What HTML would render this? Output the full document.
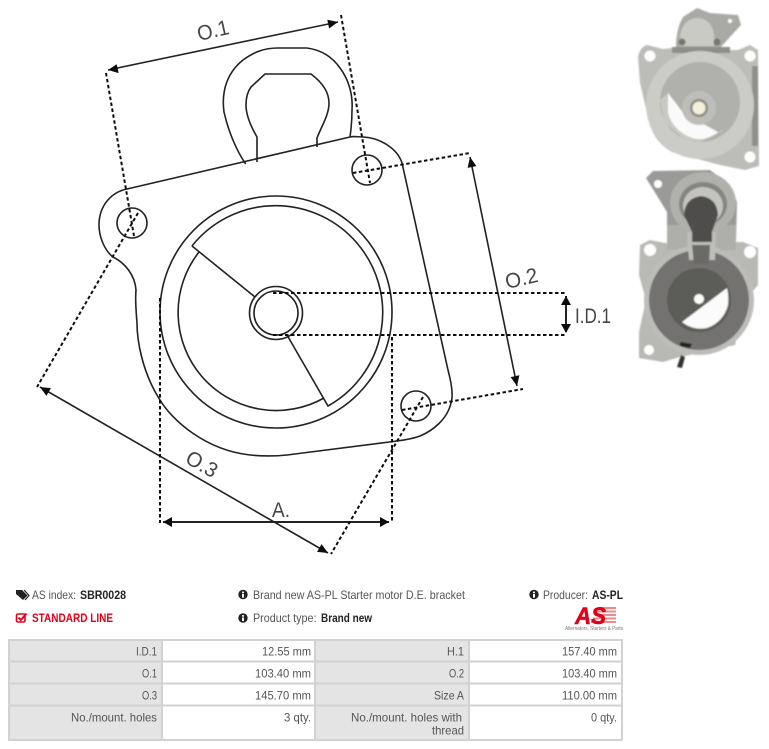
<!DOCTYPE html>
<html><head><meta charset="utf-8"><style>
html,body{margin:0;padding:0;background:#fff}
svg{display:block}
text{font-family:"Liberation Sans",sans-serif}
.t{font-size:12px;fill:#555;text-anchor:end}
.h{font-size:12px;fill:#555}
.b{font-size:12px;fill:#222;font-weight:bold}
.l{font-size:21px;fill:#444}
</style></head><body>
<svg width="769" height="749" viewBox="0 0 769 749" xmlns="http://www.w3.org/2000/svg">
<defs>
<filter id="bl" x="-5%" y="-5%" width="110%" height="110%"><feGaussianBlur stdDeviation="0.8"/></filter>
<filter id="ln" x="-5%" y="-5%" width="110%" height="110%"><feGaussianBlur stdDeviation="0.25"/></filter>
</defs>
<rect width="769" height="749" fill="#fff"/>

<g filter="url(#ln)">
<g fill="none" stroke="#222" stroke-width="1.6">
<path d="M245.7,164 C236,150 228,130 224,112 C221,90 228,72 243,60 C254,52 264,48 278,48 L307,48 C322,50 333,58 340,68 C349,80 353,95 352,110 C352,120 351,130 350,137"/>
<path d="M257,162 L257,137 C250,125 246,115 246,105 C246,96 248,91 251,87 L265,74 L311,74 C319,80 329,90 329,103 C329,115 322,125 317,138 L317,147"/>
<path d="M350,137 C354,136 358,137 363,137 C382,138 398,150 402,163 L448,370 C452,385 453,397 451,403 C447,420 432,431 420,436 C412,439 405,440 397,441 L287,455 C278,456 265,456.5 250,455 C205,450 172,420 160,400 C142,372 137,340 137,323 C136,310 135,300 136,290 C135,275 125,263 113,257 C104,250 99,236 99,225 C99,205 112,192 127,189 Z"/>
<circle cx="132" cy="223" r="15"/>
<circle cx="367" cy="170" r="15"/>
<circle cx="416" cy="406" r="15"/>
<circle cx="276" cy="312" r="116"/>
<path d="M192,246 A107,107 0 1 1 328,406 L287,335"/>
<path d="M192,246 L255,297"/>
<path d="M199,252 A98,98 0 0 0 324,398"/>
<circle cx="276" cy="313" r="26.5"/>
<circle cx="276" cy="313" r="22"/>
<line x1="108" y1="70" x2="338" y2="22"/>
<line x1="470" y1="157" x2="517" y2="386"/>
<line x1="40" y1="387" x2="328" y2="553"/>
<line x1="163" y1="522" x2="389" y2="522" stroke-width="2"/>
<line x1="566" y1="296" x2="566" y2="332" stroke-width="2"/>
</g>
<g fill="none" stroke="#111" stroke-width="2" stroke-dasharray="3.5 2.5">
<line x1="106" y1="73" x2="134" y2="236"/>
<line x1="341" y1="15" x2="370" y2="183"/>
<line x1="353" y1="173" x2="470" y2="153"/>
<line x1="402" y1="410" x2="523" y2="389"/>
<line x1="138" y1="213" x2="37" y2="387"/>
<line x1="423" y1="397" x2="331" y2="554"/>
<line x1="160" y1="298" x2="160" y2="523"/>
<line x1="392" y1="337" x2="392" y2="523"/>
<line x1="273" y1="293" x2="567" y2="293"/>
<line x1="273" y1="335" x2="567" y2="335"/>
</g>
<g fill="#111">
<polygon points="108,70 118.7,73.1 116.7,64.3"/>
<polygon points="338,22 329.1,28.5 327.3,19.7"/>
<polygon points="470,157 476.4,166.1 467.6,167.9"/>
<polygon points="517,386 519.4,375.3 510.6,377.1"/>
<polygon points="40,387 50.9,388.1 46.4,395.9"/>
<polygon points="328,553 321.6,544.1 317,551.9"/>
<polygon points="163,522 172,517 172,527"/>
<polygon points="389,522 380,517 380,527"/>
<polygon points="566,296 561,305 571,305"/>
<polygon points="566,333 561,324 571,324"/>
</g>
<text class="l" transform="translate(199,41) rotate(-13)" textLength="32" lengthAdjust="spacingAndGlyphs">O.1</text>
<text class="l" transform="translate(507,289) rotate(-13)" textLength="33" lengthAdjust="spacingAndGlyphs">O.2</text>
<text class="l" transform="translate(184,462) rotate(30)" textLength="33" lengthAdjust="spacingAndGlyphs">O.3</text>
<text class="l" x="575" y="323" textLength="36" lengthAdjust="spacingAndGlyphs">I.D.1</text>
<text class="l" x="272" y="517" textLength="18" lengthAdjust="spacingAndGlyphs">A.</text>
</g>

<!-- photo 1 -->
<g filter="url(#bl)">
<path d="M676,48 C676,32 680,22 683,17 L697,8 L710,13 L738,15 L741,25 L720,48 Z" fill="#a9aaa6"/>
<path d="M680,46 C678,28 686,19 697,18 C710,18 716,30 714,46 Z" fill="#c9cac5"/>
<circle cx="682" cy="42" r="3.5" fill="#77776f"/>
<circle cx="717" cy="42" r="3.5" fill="#77776f"/>
<circle cx="730" cy="21" r="2" fill="#fff"/>
<path d="M638,57 Q640,47 647,45 L663,49 L672,48 L730,50 L738,50 L750,45 L758,50 L759,166 L745,170 L720,165 L672,152 Q655,142 650,125 L640,83 Z" fill="#bcbdb9"/>
<rect x="672" y="47" width="58" height="6" fill="#8e8f8a"/>
<rect x="752" y="66" width="6" height="80" fill="#8f908c"/>
<circle cx="700" cy="105" r="54" fill="#cbccc7"/>
<circle cx="700" cy="102" r="40" fill="#b0b1ac"/>
<path d="M668,93 L682,112 L718,132 L725,130 L700,142 L685,140 L664,122 L660,100 Z" fill="#c8c9c4"/>
<path d="M668,93 L684,114 L718,132 A30,30 0 0 1 697,139 A36,36 0 0 1 668,113 Z" fill="#fafafa"/>
<circle cx="699" cy="108" r="17" fill="#bdbeb9"/>
<circle cx="699" cy="108" r="9" fill="#8c8a80"/>
<circle cx="699" cy="108" r="6.5" fill="#f4f0e0"/>
<circle cx="650" cy="56" r="5.5" fill="#fff"/>
<circle cx="750" cy="56" r="5.5" fill="#fff"/>
<circle cx="750" cy="157" r="5.5" fill="#fff"/>
</g>
<!-- photo 2 -->
<g filter="url(#bl)">
<path d="M646,178 L653,171 L710,170 L730,185 L737,202 L736,242 L667,242 L667,212 Z" fill="#9a9b98"/>
<path d="M640,245 L650,240 L665,243 L743,242 L758,248 L758,285 L745,300 L735,345 L680,357 L663,362 L639,358 L639,332 L646,300 L639,275 Z" fill="#b8b9b5"/>
<path d="M667,225 L736,225 L736,250 L667,250 Z" fill="#aeafab"/>
<circle cx="699" cy="300" r="55" fill="#bcbdb9"/>
<circle cx="699" cy="300" r="50" fill="#737270"/>
<circle cx="699" cy="300" r="32" fill="#5c5b59"/>
<path d="M727,288 L682,322 A30,30 0 0 0 707,328 A32,32 0 0 0 728,305 Q729,296 727,288 Z" fill="#fbfbfb"/>
<circle cx="699" cy="299" r="5" fill="#fbfbfb"/>
<ellipse cx="703" cy="203" rx="33" ry="31" fill="#b0b1ad"/>
<ellipse cx="703" cy="204" rx="24" ry="22" fill="#858482"/>
<ellipse cx="703" cy="206" rx="20" ry="19" fill="#c3c4c0"/>
<path d="M684,215 Q685,198 701,196 Q717,198 718,215 L712,232 L712,250 L692,250 L692,232 Z" fill="#4f4e4c"/>
<path d="M687,232 L692,232 L692,242 L712,242 L712,232 L716,232 L715,260 L689,260 Z" fill="#bdbeba"/>
<path d="M692,245 H710 L709,264 H694 Z" fill="#6a6967"/>
<circle cx="658" cy="184" r="4" fill="#fff"/>
<circle cx="650" cy="250" r="6" fill="#fff"/>
<circle cx="750" cy="252" r="6" fill="#fff"/>
<circle cx="649" cy="350" r="5" fill="#fff"/>
<path d="M677,367 L681,355 L685,357 L682,368 Z" fill="#333"/>
<path d="M680,342 L692,344 L690,348 L680,346 Z" fill="#222"/>
</g>

<!-- header -->
<g filter="url(#ln)">
<path d="M16,590 H22 L27.5,595.5 L23,600 L16,594 Z" fill="#222"/>
<path d="M24,590 L29,595.5 L25,600" fill="none" stroke="#222" stroke-width="1.2"/>
<text class="h" x="32" y="599" textLength="44" lengthAdjust="spacingAndGlyphs">AS index:</text>
<text class="b" x="80" y="599" textLength="46" lengthAdjust="spacingAndGlyphs">SBR0028</text>
<rect x="16.5" y="614" width="8.5" height="8" rx="1.5" fill="none" stroke="#e2001a" stroke-width="1.6"/>
<path d="M18.5,617.5 L20.8,620 L26.5,613.5" fill="none" stroke="#e2001a" stroke-width="2"/>
<text x="32" y="622" font-size="12" font-weight="bold" fill="#e2001a" textLength="81" lengthAdjust="spacingAndGlyphs">STANDARD LINE</text>

<g fill="#222"><circle cx="243" cy="594.5" r="4.7"/><circle cx="243" cy="618" r="4.7"/><circle cx="534" cy="594.5" r="4.7"/></g>
<g fill="#fff">
<rect x="242" y="594" width="2" height="3.6"/><rect x="242" y="591.6" width="2" height="1.6"/>
<rect x="242" y="617.5" width="2" height="3.6"/><rect x="242" y="615.1" width="2" height="1.6"/>
<rect x="533" y="594" width="2" height="3.6"/><rect x="533" y="591.6" width="2" height="1.6"/>
</g>
<text class="h" x="253" y="599" textLength="212" lengthAdjust="spacingAndGlyphs">Brand new AS-PL Starter motor D.E. bracket</text>
<text class="h" x="253" y="622" textLength="63.5" lengthAdjust="spacingAndGlyphs">Product type:</text>
<text class="b" x="321" y="622" textLength="51" lengthAdjust="spacingAndGlyphs">Brand new</text>
<text class="h" x="543" y="599" textLength="45" lengthAdjust="spacingAndGlyphs">Producer:</text>
<text class="b" x="592" y="599" textLength="31" lengthAdjust="spacingAndGlyphs">AS-PL</text>

<g fill="#f08a8a">
<rect x="598" y="607" width="18" height="2"/><rect x="596" y="610.5" width="20" height="2"/><rect x="595" y="614" width="21" height="2"/><rect x="593" y="617.5" width="23" height="2"/><rect x="591" y="621" width="25" height="2"/>
</g>
<text x="575" y="624" font-size="24" font-weight="bold" font-style="italic" fill="#e2001a" stroke="#e2001a" stroke-width="0.6" textLength="31" lengthAdjust="spacingAndGlyphs">AS</text>
<text x="565" y="630" font-size="5.5" fill="#777" textLength="58" lengthAdjust="spacingAndGlyphs">Alternators, Starters &amp; Parts</text>
</g>

<!-- table -->
<g>
<rect x="8" y="639" width="614" height="101" fill="#fff"/>
<rect x="8" y="639" width="154" height="101" fill="#e4e4e4"/>
<rect x="315" y="639" width="154" height="101" fill="#e4e4e4"/>
<g fill="none" stroke="#d2d2d2" stroke-width="2">
<rect x="9" y="640" width="613" height="100"/>
<line x1="8" y1="661.5" x2="622" y2="661.5"/>
<line x1="8" y1="683.5" x2="622" y2="683.5"/>
<line x1="8" y1="705.5" x2="622" y2="705.5"/>
<line x1="162" y1="639" x2="162" y2="740"/>
<line x1="315" y1="639" x2="315" y2="740"/>
<line x1="469" y1="639" x2="469" y2="740"/>
</g>
<text class="t" x="157" y="655.5" textLength="21" lengthAdjust="spacingAndGlyphs">I.D.1</text>
<text class="t" x="311" y="655.5" textLength="49" lengthAdjust="spacingAndGlyphs">12.55 mm</text>
<text class="t" x="464" y="655.5" textLength="17" lengthAdjust="spacingAndGlyphs">H.1</text>
<text class="t" x="617" y="655.5" textLength="55" lengthAdjust="spacingAndGlyphs">157.40 mm</text>
<text class="t" x="157" y="677.5" textLength="15" lengthAdjust="spacingAndGlyphs">O.1</text>
<text class="t" x="311" y="677.5" textLength="56" lengthAdjust="spacingAndGlyphs">103.40 mm</text>
<text class="t" x="464" y="677.5" textLength="15" lengthAdjust="spacingAndGlyphs">O.2</text>
<text class="t" x="617" y="677.5" textLength="55" lengthAdjust="spacingAndGlyphs">103.40 mm</text>
<text class="t" x="157" y="699.5" textLength="15" lengthAdjust="spacingAndGlyphs">O.3</text>
<text class="t" x="311" y="699.5" textLength="56" lengthAdjust="spacingAndGlyphs">145.70 mm</text>
<text class="t" x="464" y="699.5" textLength="30" lengthAdjust="spacingAndGlyphs">Size A</text>
<text class="t" x="617" y="699.5" textLength="55" lengthAdjust="spacingAndGlyphs">110.00 mm</text>
<text class="t" x="157" y="721.5" textLength="86" lengthAdjust="spacingAndGlyphs">No./mount. holes</text>
<text class="t" x="311" y="721.5" textLength="27" lengthAdjust="spacingAndGlyphs">3 qty.</text>
<text class="t" x="462" y="721.5" textLength="111" lengthAdjust="spacingAndGlyphs">No./mount. holes with</text>
<text class="t" x="464" y="734.5" textLength="32" lengthAdjust="spacingAndGlyphs">thread</text>
<text class="t" x="617" y="721.5" textLength="26" lengthAdjust="spacingAndGlyphs">0 qty.</text>
</g>
</svg>
</body></html>
